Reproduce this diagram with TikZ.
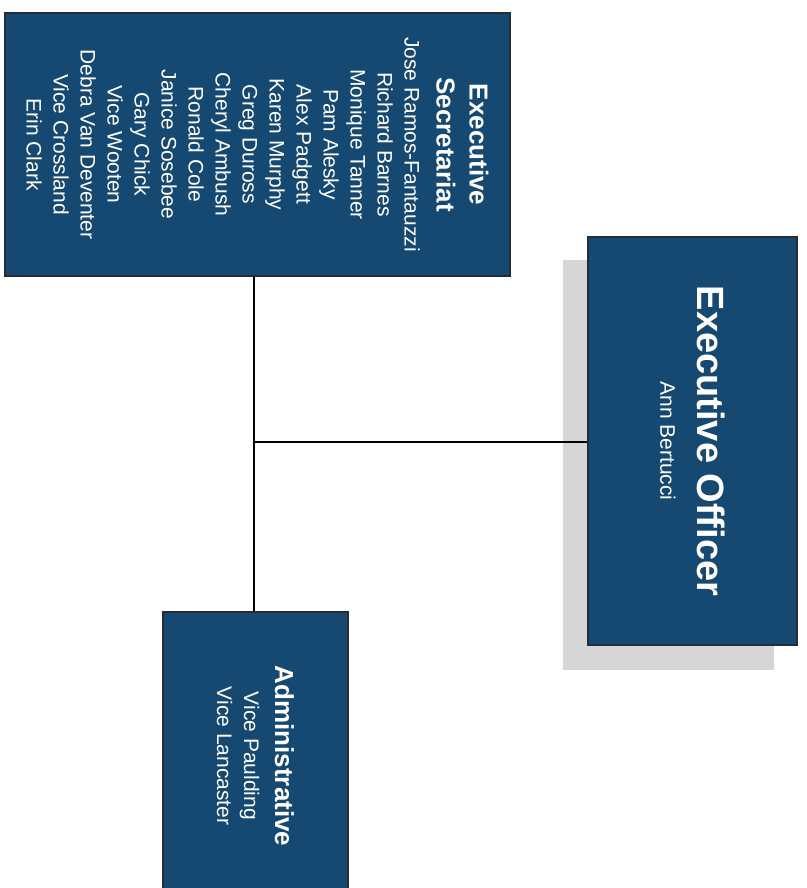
\documentclass[tikz,border=0pt]{standalone}
\usepackage{fontspec}
\setmainfont{Liberation Sans}
\usetikzlibrary{calc,backgrounds}

\definecolor{unitblue}{RGB}{22,73,113}
\definecolor{unitedge}{RGB}{35,45,55}
\definecolor{shadowgray}{RGB}{214,214,214}

\tikzset{
    unit/.style={draw=unitedge, line width=1.2pt, fill=unitblue, text=white,
        rotate=-90, align=center, inner sep=0pt},
    link/.style={line width=1.1pt, black},
}

\begin{document}
\begin{tikzpicture}[x=1pt, y=-1pt]
            \useasboundingbox (0,0) rectangle (806,888);
            \node[unit, minimum width=263pt, minimum height=505pt, font=\fontsize{21}{27}\selectfont] (secretariat) at (257.5,144.5) {
                {\fontsize{26}{33}\selectfont\bfseries Executive}\\[6pt]
                {\fontsize{26}{33}\selectfont\bfseries Secretariat}\\[5pt]
                Jose Ramos-Fantauzzi\\
                Richard Barnes\\
                Monique Tanner\\
                Pam Alesky\\
                Alex Padgett\\
                Karen Murphy\\
                Greg Duross\\
                Cheryl Ambush\\
                Ronald Cole\\
                Janice Sosebee\\
                Gary Chick\\
                Vice Wooten\\
                Debra Van Deventer\\
                Vice Crossland\\
                Erin Clark
            };
            \node[unit, minimum width=408pt, minimum height=209pt, font=\fontsize{21}{26}\selectfont] (officer) at (692.5,441) {
                {\fontsize{38}{40}\selectfont\bfseries Executive Officer}\\[11pt]
                Ann Bertucci
            };
            \node[unit, minimum width=288pt, minimum height=185pt, font=\fontsize{21}{27}\selectfont] (admin) at (255.5,756) {
                {\fontsize{26}{33}\selectfont\bfseries Administrative}\\[4pt]
                Vice Paulding\\
                Vice Lancaster
            };
            \begin{scope}[on background layer]
                \fill[shadowgray] ($(officer.south west)+(-24,24)$) rectangle ($(officer.north east)+(-24,24)$);
            \end{scope}
            \coordinate (hub) at (254,442);
            \draw[link] (hub |- secretariat.east) -- (hub |- admin.west);
            \draw[link] (hub) -- (hub -| officer.south);
        \end{tikzpicture}
\end{document}
